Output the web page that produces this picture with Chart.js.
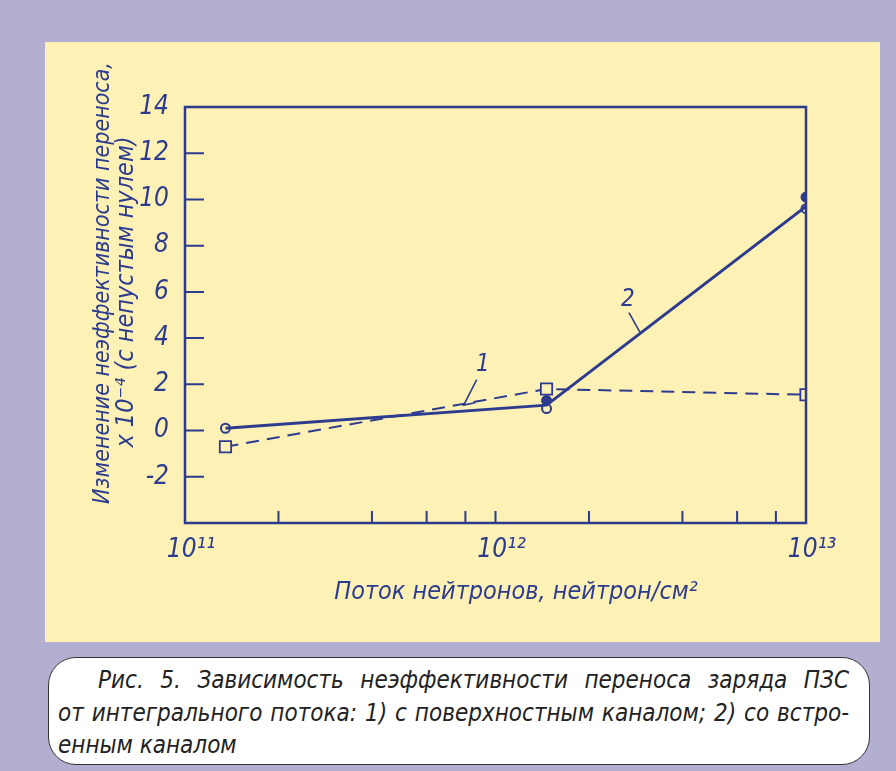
<!DOCTYPE html>
<html>
<head>
<meta charset="utf-8">
<script src="https://cdn.jsdelivr.net/npm/chart.js@4.4.1/dist/chart.umd.min.js"></script>
<style>
  html, body { margin: 0; padding: 0; }
  body { width: 896px; height: 771px; background: #b2afd0; position: relative; overflow: hidden; }
  #panel { position: absolute; left: 45px; top: 42px; width: 835px; height: 600px; background: #fdf1b6; }
  #caption {
    position: absolute; left: 48px; top: 657px; width: 822px; height: 108px; box-sizing: border-box;
    background: #fff; border: 1.5px solid #333; border-radius: 28px;
    padding: 6px 20px 0 9px;
    font: italic 24px "Liberation Sans Narrow", "DejaVu Sans Condensed", sans-serif; color: #222;
  }
  #caption div { line-height: 32.5px; height: 32.5px; white-space: nowrap; }
  #caption .j { text-align: justify; text-align-last: justify; white-space: normal; }
</style>
</head>
<body>
<div id="panel"><canvas id="myChart" width="835" height="600"></canvas></div>
<div id="caption">
  <div class="j" style="padding-left:40px">Рис. 5. Зависимость неэффективности переноса заряда ПЗС</div>
  <div class="j">от интегрального потока: 1) с поверхностным каналом; 2) со встро-</div>
  <div>енным каналом</div>
</div>
<script>
// flux values, neutron/cm^2
const flux = [1.35e11, 1.46e12, 1e13];
const fluxFilled = [1.46e12, 1e13];
// curve 1: surface channel (dashed, squares)
const curve1 = [-0.7, 1.8, 1.55];
// curve 2: buried channel (solid)
const curve2Line = [0.1, 1.1, 9.7];
const curve2Open = [0.1, 0.95, 9.6];
const curve2Filled = [1.3, 10.1];
// leader lines for the "1" and "2" marks
const leader1X = [8.7e11, 7.9e11, 8.6e11];
const leader1Y = [2.2, 1.1, 1.2];
const leader2X = [2.69e12, 2.92e12];
const leader2Y = [5.1, 4.25];
const xTickValues = [1e11, 2e11, 4e11, 6e11, 8e11, 1e12, 2e12, 4e12, 6e12, 8e12, 1e13];
const xTickLabels = { 11: "10¹¹", 12: "10¹²", 13: "10¹³" };
const yMin = -4, yMax = 14;

const ink = "#2d3b8e";
const paper = "#fdf1b6";
const handFont = '"Liberation Sans Narrow", "DejaVu Sans Condensed", sans-serif';

const ctx = document.getElementById("myChart");

function pts(xs, ys) {
  return xs.map((x, i) => ({ x: x, y: ys[i] }));
}

function rotatedText(c, text, x, y) {
  c.save();
  c.translate(x, y);
  c.rotate(-Math.PI / 2);
  c.fillText(text, 0, 0);
  c.restore();
}

const framePlugin = {
  id: "frame",
  afterDraw(chart) {
    const c = chart.ctx;
    const a = chart.chartArea;
    const xs = chart.scales.x, ys = chart.scales.y;
    c.save();
    c.strokeStyle = ink;
    c.lineWidth = 2.5;
    c.strokeRect(a.left, a.top, a.right - a.left, a.bottom - a.top);
    c.lineWidth = 2;
    c.beginPath();
    for (let v = yMin + 2; v < yMax; v += 2) {
      const py = ys.getPixelForValue(v);
      c.moveTo(a.left, py);
      c.lineTo(a.left + 19, py);
    }
    xTickValues.slice(1, -1).forEach((v) => {
      const px = xs.getPixelForValue(v);
      c.moveTo(px, a.bottom);
      c.lineTo(px, a.bottom - 12);
    });
    c.stroke();

    c.fillStyle = ink;
    c.textAlign = "center";
    c.textBaseline = "middle";
    // curve numbers
    c.font = "italic 24px " + handFont;
    c.fillText("1", xs.getPixelForValue(9.1e11), ys.getPixelForValue(2.83));
    c.fillText("2", xs.getPixelForValue(2.67e12), ys.getPixelForValue(5.67));

    // axis titles
    c.font = "italic 23px " + handFont;
    rotatedText(c, "Изменение неэффективности переноса,", 58, 241);
    c.font = "italic 25px " + handFont;
    rotatedText(c, "x 10⁻⁴ (с непустым нулем)", 81, 250);
    c.fillText("Поток нейтронов, нейтрон/см²", 471, 550);
    c.restore();
  }
};

new Chart(ctx, {
  type: "scatter",
  data: {
    datasets: [
      {
        data: pts(flux, curve1),
        showLine: true,
        borderColor: ink,
        borderWidth: 2,
        borderDash: [13, 8],
        pointStyle: "rect",
        pointRadius: 8,
        pointBorderWidth: 1.8,
        pointBorderColor: ink,
        pointBackgroundColor: paper,
      },
      {
        data: pts(flux, curve2Line),
        showLine: true,
        borderColor: ink,
        borderWidth: 3,
        pointRadius: 0,
      },
      {
        data: pts(flux, curve2Open),
        pointStyle: "circle",
        pointRadius: 4.5,
        pointBorderWidth: 2,
        pointBorderColor: ink,
        pointBackgroundColor: paper,
      },
      {
        data: pts(fluxFilled, curve2Filled),
        pointStyle: "circle",
        pointRadius: 5,
        pointBorderWidth: 1,
        pointBorderColor: ink,
        pointBackgroundColor: ink,
      },
      {
        data: pts(leader1X, leader1Y),
        showLine: true,
        borderColor: ink,
        borderWidth: 1.6,
        pointRadius: 0,
      },
      {
        data: pts(leader2X, leader2Y),
        showLine: true,
        borderColor: ink,
        borderWidth: 1.6,
        pointRadius: 0,
      },
    ],
  },
  options: {
    responsive: false,
    animation: false,
    layout: { padding: { left: 0, right: 74, top: 65, bottom: 0 } },
    plugins: {
      legend: { display: false },
      tooltip: { enabled: false },
    },
    scales: {
      x: {
        type: "logarithmic",
        min: 1e11,
        max: 1e13,
        grid: { display: false },
        border: { display: false },
        afterBuildTicks: (scale) => {
          scale.ticks = xTickValues.map((v) => ({ value: v }));
        },
        afterFit: (scale) => { scale.height = 119; },
        ticks: {
          autoSkip: false,
          maxRotation: 0,
          padding: 4,
          labelOffset: 6,
          color: ink,
          font: { family: handFont, size: 26, style: "italic" },
          callback: (v) => {
            const e = Math.log10(v);
            return Math.abs(e - Math.round(e)) < 1e-6 ? xTickLabels[Math.round(e)] : "";
          },
        },
      },
      y: {
        min: yMin,
        max: yMax,
        grid: { display: false },
        border: { display: false },
        afterFit: (scale) => { scale.width = 140; },
        ticks: {
          stepSize: 2,
          padding: 8,
          color: ink,
          font: { family: handFont, size: 26, style: "italic" },
          callback: (v) => (v === yMin ? "" : v),
        },
      },
    },
  },
  plugins: [framePlugin],
});
</script>
</body>
</html>
